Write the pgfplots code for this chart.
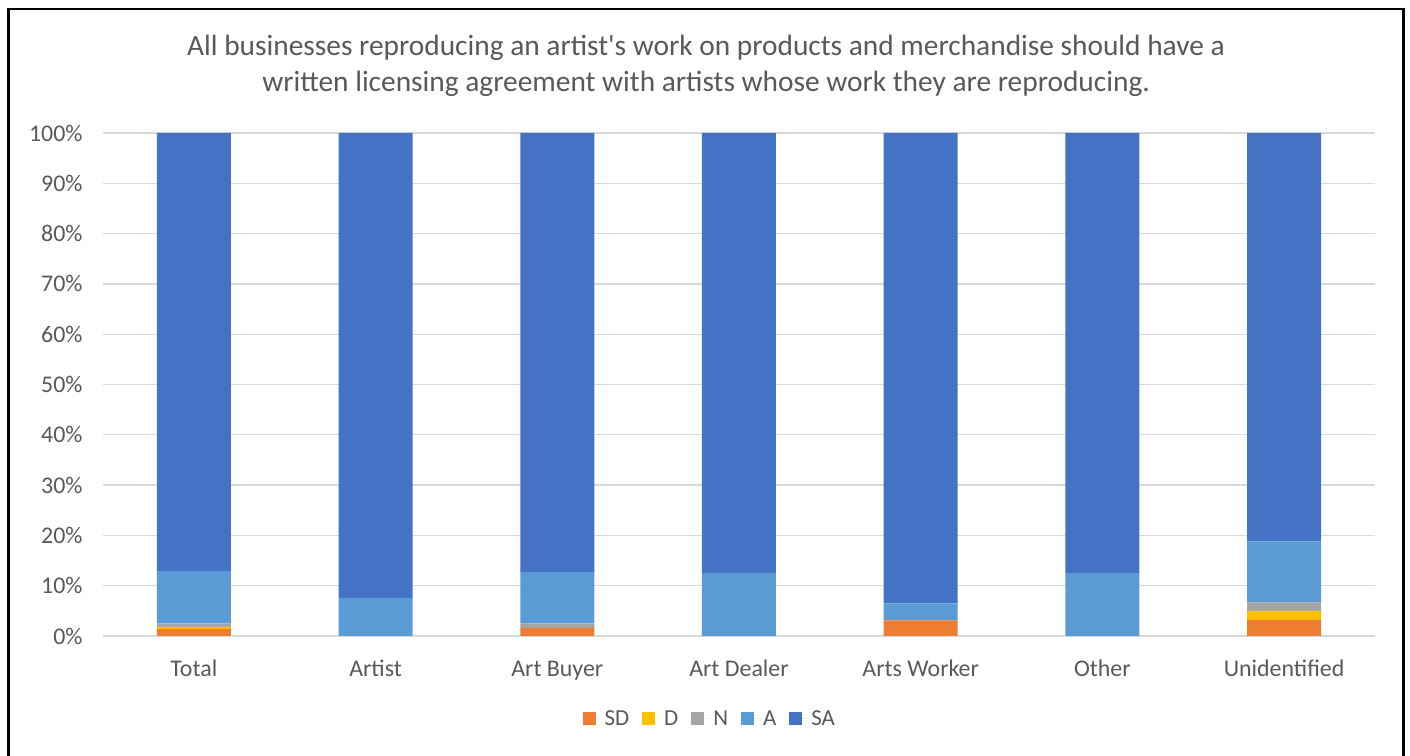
\documentclass[border=0pt]{standalone}
\usepackage{pgfplots}
\pgfplotsset{compat=1.18}
\usepackage{fontspec}
\setmainfont{Carlito}[Ligatures=TeXOff]
\definecolor{cSD}{HTML}{ED7D31}
\definecolor{cD}{HTML}{FFC000}
\definecolor{cN}{HTML}{A5A5A5}
\definecolor{cA}{HTML}{5B9BD5}
\definecolor{cSA}{HTML}{4472C4}
\definecolor{txt}{HTML}{595959}
\definecolor{grd}{HTML}{D9D9D9}
\begin{document}
\begin{tikzpicture}
\useasboundingbox (0,0) rectangle (1410bp,756bp);
\fill[white] (0,0) rectangle (1410bp,756bp);
\draw[black, line width=2.2bp] (8.5bp,0) -- (8.5bp,747bp) -- (1403.5bp,747bp) -- (1403.5bp,0);
\node[font=\fontsize{29.5}{36}\selectfont, text=txt, align=center] at (706bp,690bp)
  {All businesses reproducing an artist's work on products and merchandise should have a\\written licensing agreement with artists whose work they are reproducing.};
\begin{axis}[
  at={(103bp,120bp)}, anchor=south west,
  scale only axis, width=1272bp, height=503bp,
  ybar stacked, bar width=74bp,
  xmin=-0.5, xmax=6.5, ymin=0, ymax=100,
  xtick={0,1,2,3,4,5,6},
  xticklabels={Total,Artist,Art Buyer,Art Dealer,Arts Worker,Other,Unidentified},
  ytick={0,10,...,100},
  yticklabel={\pgfmathprintnumber{\tick}\%},
  /pgf/number format/assume math mode=true,
  ymajorgrids, grid style={grd, line width=1.3bp},
  axis x line*=bottom, axis y line*=left,
  x axis line style={grd, line width=1.3bp, -},
  y axis line style={draw=none},
  major tick length=0pt,
  tick label style={font=\fontsize{24}{28}\selectfont, text=txt},
  xticklabel style={text height=12bp, text depth=4bp, yshift=-25bp},
  yticklabel style={xshift=-17bp},
  legend style={at={(0.477,-0.165)}, anchor=center, draw=none, fill=none,
    legend columns=5, font=\fontsize{23}{26}\selectfont, text=txt,
    /tikz/every even column/.append style={column sep=11bp}},
  legend image code/.code={\fill[#1] (0bp,-6.5bp) rectangle (13bp,6.5bp); \path (0bp,0bp) -- (20bp,0bp);},
]
\addplot[fill=cSD, draw=none] coordinates {(0,1.4) (1,0) (2,1.6) (3,0) (4,3.1) (5,0) (6,3.2)};
\addplot[fill=cD, draw=none] coordinates {(0,0.4) (1,0) (2,0) (3,0) (4,0) (5,0) (6,1.8)};
\addplot[fill=cN, draw=none] coordinates {(0,0.7) (1,0) (2,0.9) (3,0) (4,0) (5,0) (6,1.7)};
\addplot[fill=cA, draw=none] coordinates {(0,10.4) (1,7.6) (2,10.2) (3,12.5) (4,3.4) (5,12.5) (6,12.1)};
\addplot[fill=cSA, draw=none] coordinates {(0,87.1) (1,92.4) (2,87.3) (3,87.5) (4,93.5) (5,87.5) (6,81.2)};
\legend{SD,D,N,A,SA}
\end{axis}
\end{tikzpicture}
\end{document}
